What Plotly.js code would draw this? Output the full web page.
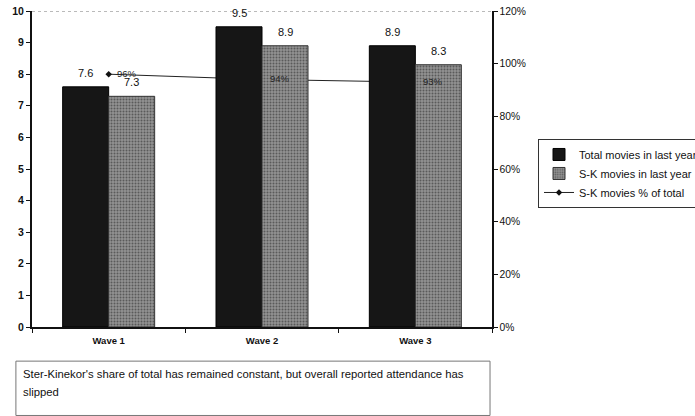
<!DOCTYPE html>
<html><head><meta charset="utf-8">
<script src="https://cdn.plot.ly/plotly-3.0.1.min.js"></script>
<style>html,body{margin:0;padding:0;background:#fff}#chart{width:695px;height:416px}</style>
</head><body><div id="chart"></div>
<script>
const categories = ['Wave 1', 'Wave 2', 'Wave 3'];
const totalMovies = [7.6, 9.5, 8.9];
const skMovies = [7.3, 8.9, 8.3];
const skShare = [0.96, 0.94, 0.93];
const shareLabels = ['96%', '94%', '93%'];
const seriesNames = ['Total movies in last year', 'S-K movies in last year', 'S-K movies % of total'];
const noteLines = ["Ster-Kinekor's share of total has remained constant, but overall reported attendance has", "slipped"];

const font = 'Liberation Sans, Arial, sans-serif';

const traces = [
  {type: 'scatter', mode: 'lines+markers', name: seriesNames[2], x: categories, y: skShare, yaxis: 'y',
   line: {color: '#222', width: 1}, marker: {symbol: 'diamond', size: 5, color: '#111'}, legendrank: 3},
  {type: 'bar', name: seriesNames[0], x: categories, y: totalMovies, yaxis: 'y2',
   marker: {color: '#161616', line: {color: '#000', width: 1}}, legendrank: 1},
  {type: 'bar', name: seriesNames[1], x: categories, y: skMovies, yaxis: 'y2',
   marker: {color: '#8a8a8a', line: {color: '#333', width: 1},
            pattern: {shape: '.', fgcolor: '#5a5a5a', bgcolor: '#929292', size: 3, solidity: 0.35}}, legendrank: 2}
];

const annotations = [];
categories.forEach((c, i) => {
  annotations.push({x: c, y: totalMovies[i], xref: 'x', yref: 'y2', text: totalMovies[i].toFixed(1),
    showarrow: false, xshift: -23, yanchor: 'bottom', yshift: 6, font: {family: font, size: 11, color: '#111'}});
  annotations.push({x: c, y: skMovies[i], xref: 'x', yref: 'y2', text: skMovies[i].toFixed(1),
    showarrow: false, xshift: 23, yanchor: 'bottom', yshift: 6, font: {family: font, size: 11, color: '#111'}});
  annotations.push({x: c, y: skShare[i], xref: 'x', yref: 'y', text: shareLabels[i],
    showarrow: false, xanchor: 'left', xshift: 6, yshift: 1, font: {family: font, size: 9.5, color: '#222'}});
});
noteLines.forEach((t, i) => {
  annotations.push({xref: 'paper', yref: 'paper', x: -0.024, y: -0.149 - i * 0.057, xanchor: 'left', yanchor: 'middle',
    align: 'left', showarrow: false, text: t, font: {family: font, size: 11.3, color: '#111'}});
});

const layout = {
  width: 695, height: 416,
  margin: {l: 32, r: 203, t: 11, b: 89, autoexpand: false},
  paper_bgcolor: '#fff', plot_bgcolor: '#fff',
  font: {family: font, size: 9, color: '#111'},
  barmode: 'group', bargap: 0.4, bargroupgap: 0,
  showlegend: true,
  legend: {x: 1.1, y: 0.595, xanchor: 'left', yanchor: 'top', bgcolor: '#fff', bordercolor: '#333', borderwidth: 1,
           font: {family: font, size: 11, color: '#111'}, itemwidth: 30, tracegroupgap: 0},
  xaxis: {type: 'category', range: [-0.5, 2.5], showline: true, linecolor: '#111', linewidth: 1.5,
          ticks: 'outside', tickson: 'boundaries', ticklen: 4, tickcolor: '#111', showgrid: false,
          tickfont: {family: font, size: 9.5, color: '#111', weight: 'bold'}, ticklabelstandoff: 4, zeroline: false},
  yaxis: {range: [0, 1.2], dtick: 0.2, tickformat: '.0%', side: 'right', showline: true, linecolor: '#111', linewidth: 1.5,
          ticks: 'outside', ticklen: 4, tickcolor: '#111', showgrid: false, zeroline: false,
          tickfont: {family: font, size: 10.3, color: '#111'}},
  yaxis2: {range: [0, 10], dtick: 1, side: 'left', overlaying: 'y', showline: true, linecolor: '#111', linewidth: 2,
           ticks: 'outside', ticklen: 4, tickcolor: '#111', showgrid: false, zeroline: false,
           tickfont: {family: font, size: 10.5, color: '#111', weight: 'bold'}},
  shapes: [
    {type: 'line', xref: 'paper', yref: 'y2', x0: 0, x1: 1, y0: 10, y1: 10, line: {color: '#777', width: 1, dash: 'dot'}},
    {type: 'rect', xref: 'paper', yref: 'paper', x0: -0.035, x1: 0.9957, y0: -0.108, y1: -0.28,
     line: {color: '#777', width: 1}, fillcolor: 'rgba(0,0,0,0)'}
  ],
  annotations: annotations
};

Plotly.newPlot('chart', traces, layout, {displayModeBar: false, staticPlot: true});
</script></body></html>
